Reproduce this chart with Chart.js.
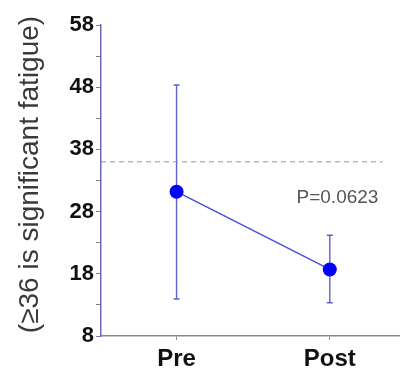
<!DOCTYPE html>
<html>
<head>
<meta charset="utf-8">
<script src="https://cdn.jsdelivr.net/npm/chart.js@4"></script>
<style>
  html, body { margin: 0; padding: 0; background: #ffffff; }
  #wrap { width: 400px; height: 372px; }
</style>
</head>
<body>
<div id="wrap"><canvas id="c"></canvas></div>
<script>
// Fatigue score, mean with range, before and after
const categories = ['Pre', 'Post'];
const means = [31.2, 18.7];
const errLow = [13.95, 13.35];
const errHigh = [48.35, 24.2];

// y axis ticks: labelled every 10, unlabelled marks halfway between
const majorTicks = [8, 18, 28, 38, 48, 58];
const minorTicks = [13, 23, 33, 43, 53];

// reference threshold (dashed) and its horizontal extent in x units
const threshold = 36;
const thresholdSpan = [-0.493, 1.345];

const yTitle = '(\u226536 is significant fatigue)';
const pValueText = 'P=0.0623';
const pValuePos = [1.05, 30.3];

const FONT = "'Liberation Sans', Arial, sans-serif";

// vertical range bars with small caps, drawn under the markers
const errorBars = {
  id: 'errorBars',
  beforeDatasetsDraw(chart) {
    const { ctx, scales: { x, y } } = chart;
    ctx.save();
    ctx.strokeStyle = '#5f5fd6';
    ctx.lineWidth = 1.4;
    means.forEach((m, i) => {
      const px = x.getPixelForValue(i);
      const top = y.getPixelForValue(errHigh[i]);
      const bot = y.getPixelForValue(errLow[i]);
      ctx.beginPath();
      ctx.moveTo(px, top); ctx.lineTo(px, bot);
      ctx.moveTo(px - 3, top); ctx.lineTo(px + 3, top);
      ctx.moveTo(px - 3, bot); ctx.lineTo(px + 3, bot);
      ctx.stroke();
    });
    ctx.restore();
  }
};

// p-value note and rotated axis title
const texts = {
  id: 'texts',
  afterDraw(chart) {
    const { ctx, chartArea, scales: { x, y } } = chart;
    ctx.save();
    ctx.font = '19px ' + FONT;
    ctx.fillStyle = '#555555';
    ctx.textAlign = 'center';
    ctx.textBaseline = 'middle';
    ctx.fillText(pValueText, x.getPixelForValue(pValuePos[0]), y.getPixelForValue(pValuePos[1]));
    ctx.restore();

    ctx.save();
    ctx.translate(30, (chartArea.top + chartArea.bottom) / 2 - 6);
    ctx.rotate(-Math.PI / 2);
    ctx.font = '28px ' + FONT;
    ctx.fillStyle = '#3a3a3a';
    ctx.textAlign = 'center';
    ctx.textBaseline = 'middle';
    ctx.fillText(yTitle, 0, 0);
    ctx.restore();
  }
};

new Chart(document.getElementById('c'), {
  type: 'line',
  data: {
    datasets: [
      {
        label: 'threshold',
        data: thresholdSpan.map(v => ({ x: v, y: threshold })),
        borderColor: '#7c9cb4',
        borderWidth: 1,
        borderDash: [5, 4],
        pointRadius: 0,
        order: 2
      },
      {
        label: 'mean',
        data: means.map((m, i) => ({ x: i, y: m })),
        borderColor: '#4b4bd8',
        borderWidth: 1.4,
        pointRadius: 7,
        pointBackgroundColor: '#0000ff',
        pointBorderColor: '#0000ff',
        pointBorderWidth: 0,
        order: 1
      }
    ]
  },
  options: {
    responsive: true,
    maintainAspectRatio: false,
    animation: false,
    layout: { autoPadding: false, padding: { top: 25, right: 0, left: 0, bottom: 0 } },
    plugins: {
      legend: { display: false },
      tooltip: { enabled: false }
    },
    scales: {
      x: {
        type: 'linear',
        min: -0.493,
        max: 1.458,
        afterBuildTicks(scale) {
          scale.ticks = categories.map((_, i) => ({ value: i }));
        },
        afterFit(scale) { scale.height = 36; },
        ticks: {
          autoSkip: false,
          callback: v => categories[v] ?? '',
          color: '#111111',
          font: { family: FONT, size: 24, weight: 'bold' },
          padding: 5,
          maxRotation: 0
        },
        grid: {
          drawOnChartArea: false,
          drawTicks: true,
          tickLength: 4,
          color: '#8a8a8a'
        },
        border: { color: '#8a8a8a', width: 1.5 }
      },
      y: {
        min: 8,
        max: 58,
        afterBuildTicks(scale) {
          scale.ticks = [...majorTicks, ...minorTicks].sort((a, b) => a - b).map(v => ({ value: v }));
        },
        afterFit(scale) { scale.width = 101; },
        ticks: {
          autoSkip: false,
          callback: v => majorTicks.includes(v) ? String(v) : '',
          color: '#111111',
          font: { family: FONT, size: 22, weight: 'bold' },
          padding: 2
        },
        grid: {
          drawOnChartArea: false,
          drawTicks: true,
          tickLength: 5,
          color: '#7a7a9a'
        },
        border: { color: '#6a6ab0', width: 1.5 }
      }
    }
  },
  plugins: [errorBars, texts]
});
</script>
</body>
</html>
